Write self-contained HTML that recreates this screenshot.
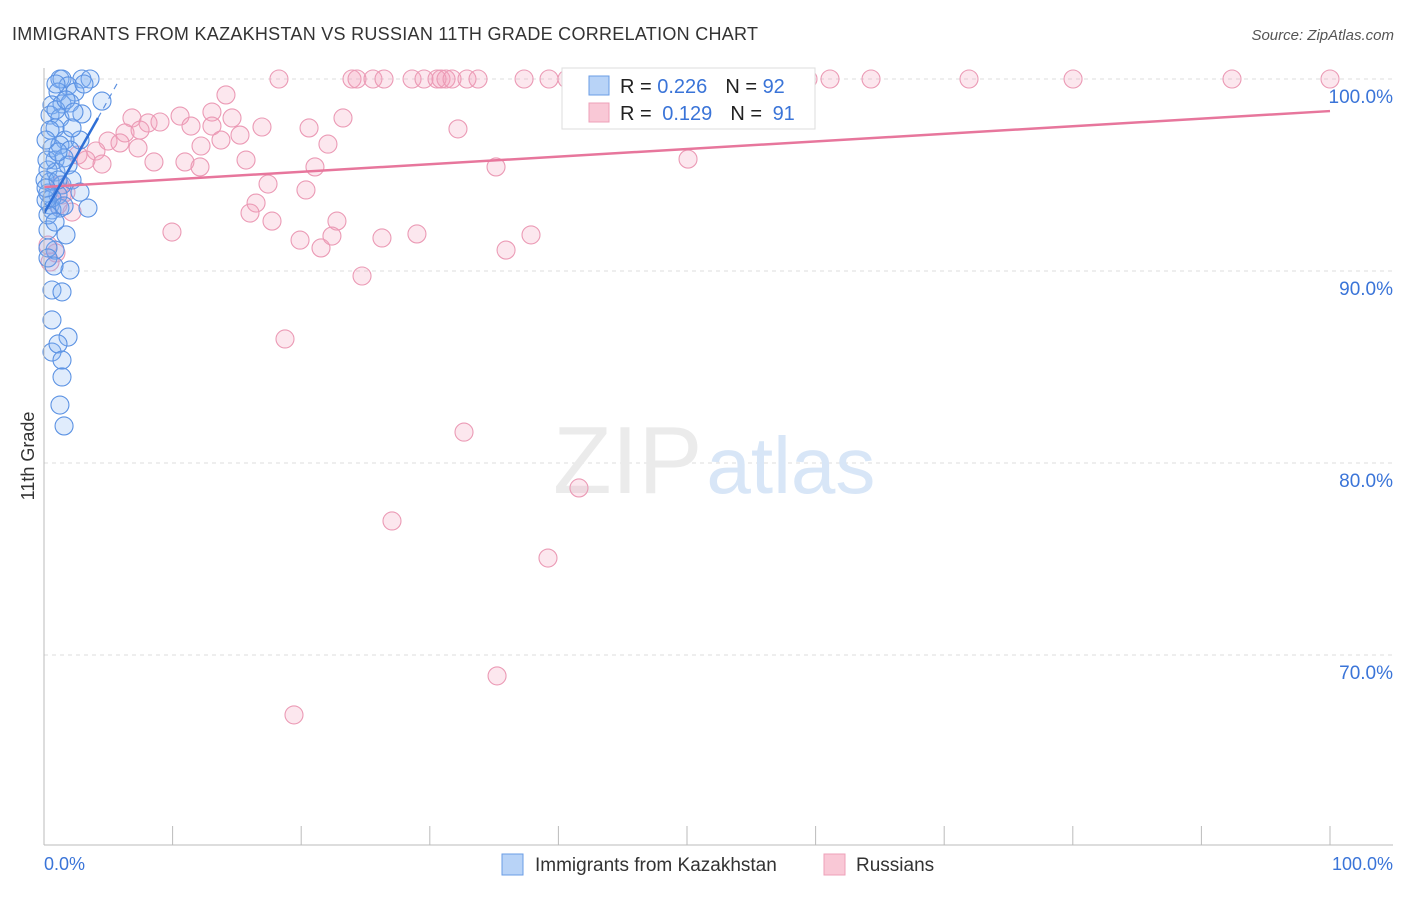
<!DOCTYPE html>
<html><head><meta charset="utf-8"><style>
body{margin:0;background:#fff;font-family:"Liberation Sans",sans-serif}
svg text{font-family:"Liberation Sans",sans-serif}
</style></head><body>
<svg id="chart" width="1406" height="892" xmlns="http://www.w3.org/2000/svg">
<text x="12" y="40" font-size="18" fill="#333" textLength="746">IMMIGRANTS FROM KAZAKHSTAN VS RUSSIAN 11TH GRADE CORRELATION CHART</text>
<text x="1394" y="40" font-size="15" fill="#555" text-anchor="end" font-style="italic">Source: ZipAtlas.com</text>
<g id="grid"></g>
<text x="553" y="493" font-size="96" font-family="Liberation Serif" fill="#ebebeb">ZIP<tspan fill="#d8e6f7" font-family="Liberation Sans" font-size="80" dx="4">atlas</tspan></text>
<g id="pts"></g>
<g id="lines"></g>
<line x1="44" y1="845" x2="1393" y2="845" stroke="#bbb"/>
<line x1="44" y1="68" x2="44" y2="845" stroke="#bbb"/>
<g id="axes"></g>
<text transform="translate(34,456) rotate(-90)" font-size="18" fill="#333" text-anchor="middle">11th Grade</text>
<g>
<rect x="562" y="68" width="253" height="61" fill="#fff" stroke="#ddd"/>
<rect x="589" y="76" width="20" height="19" fill="#b8d3f7" stroke="#6a9de6"/>
<rect x="589" y="103" width="20" height="19" fill="#f9c8d6" stroke="#eea0b8"/>
<text x="620" y="93" font-size="20" fill="#222">R = <tspan fill="#3a74d8">0.226</tspan><tspan dx="18">N = </tspan><tspan fill="#3a74d8">92</tspan></text>
<text x="620" y="120" font-size="20" fill="#222">R = <tspan fill="#3a74d8" dx="5">0.129</tspan><tspan dx="18">N = </tspan><tspan fill="#3a74d8" dx="5">91</tspan></text>
</g>
<g>
<rect x="502" y="854" width="21" height="21" fill="#b8d3f7" stroke="#6a9de6"/>
<text x="535" y="871" font-size="19" fill="#333">Immigrants from Kazakhstan</text>
<rect x="824" y="854" width="21" height="21" fill="#f9c8d6" stroke="#eea0b8"/>
<text x="856" y="871" font-size="19" fill="#333">Russians</text>
</g>
</svg>
<script>
const yTicks=[100,90,80,70];
const yTickLabels=["100.0%","90.0%","80.0%","70.0%"];
const xTickValues=[0,10,20,30,40,50,60,70,80,90,100];
const xEndLabels=["0.0%","100.0%"];
const blueX=[1.24,1.4,2.95,3.58,1.87,1.09,2.41,4.51,0.62,1.4,2.02,0.47,1.24,2.95,0.86,1.63,2.8,0.62,1.24,2.02,0.86,1.56,0.31,0.93,1.87,0.47,1.4,2.18,0.31,1.09,2.8,0.47,1.24,3.42,0.62,0.31,1.71,0.86,0.31,2.02,0.62,1.4,0.62,1.87,0.62,1.09,1.4,1.4,1.24,1.56,0.16,0.31,0.86,0.08,0.23,0.47,0.93,1.71,2.33,0.16,0.62,1.09,1.56,0.31,0.78,3.11,0.93,2.18,1.09,0.16];
const blueY=[100,100,100,100,99.64,99.32,99.32,98.85,98.65,98.7,98.75,98.12,97.97,98.18,97.45,96.82,96.82,96.41,96.56,96.3,95.78,95.89,95.26,95.16,95.52,94.64,94.48,94.74,94.06,93.96,94.11,93.44,93.28,93.28,93.18,92.14,91.88,91.09,91.2,90.05,89.01,88.91,87.45,86.56,85.78,86.2,85.36,84.48,83.02,81.93,93.7,92.92,92.55,94.74,95.78,97.34,98.39,98.91,98.28,96.82,93.8,94.74,93.39,90.68,90.26,99.74,99.74,97.45,96.2,94.32];
const pinkX=[18.27,23.95,24.34,25.58,26.44,28.62,29.55,30.56,30.87,31.26,31.73,32.89,33.75,37.33,39.27,40.67,47.2,50.78,51.87,59.41,61.12,64.31,71.93,80.02,92.38,100,14.15,13.06,6.84,8.09,9.02,10.58,11.43,13.06,14.62,16.95,20.61,23.25,32.19,6.3,7.47,4.98,5.91,7.31,4.04,2.64,3.27,4.51,8.55,10.96,12.13,12.21,13.76,15.24,15.71,21.07,22.08,35.15,50.08,17.42,20.37,16.49,16.02,17.73,22.78,9.95,19.91,21.54,22.39,26.28,29.0,37.87,35.93,24.73,18.74,32.66,41.6,27.06,39.19,35.23,19.44,1.24,2.18,1.09,0.93,0.47,0.31,1.4,1.71];
const pinkY=[100,100,100,100,100,100,100,100,100,100,100,100,100,100,100,100,100,100,100,100,100,100,100,100,100,100,99.17,98.28,97.97,97.71,97.76,98.07,97.55,97.55,97.97,97.5,97.45,97.97,97.4,97.19,97.34,96.77,96.67,96.41,96.25,96.04,95.78,95.57,95.68,95.68,95.42,96.51,96.82,97.08,95.78,95.42,96.61,95.42,95.83,94.53,94.22,93.54,93.02,92.6,92.6,92.03,91.61,91.2,91.82,91.72,91.93,91.88,91.09,89.74,86.46,81.61,78.7,76.98,75.05,68.91,66.88,94.48,93.07,93.44,90.94,90.47,91.35,93.96,94.11];
const pinkTrend=[94.375,98.33];
const blueTrend=[93.0,97.97,99.9];
const blueTrendX=[0,4.2,5.8];

const NS="http://www.w3.org/2000/svg";
const X=v=>44+v*12.86, Y=v=>79+(100-v)*19.2;
function mk(tag,attrs,parent){const e=document.createElementNS(NS,tag);for(const k in attrs)e.setAttribute(k,attrs[k]);parent.appendChild(e);return e;}
const grid=document.getElementById('grid'),axes=document.getElementById('axes'),pts=document.getElementById('pts'),lines=document.getElementById('lines');
yTicks.forEach((t,i)=>{
 const l=mk('line',{x1:44,x2:1393,y1:Y(t),y2:Y(t),stroke:'#ddd','stroke-dasharray':'4,4'},grid);
 
 
 const tx=mk('text',{x:1393,y:Y(t)+24,'font-size':19,fill:'#3a74d8','text-anchor':'end'},axes);
 tx.textContent=yTickLabels[i];
 
 
});
xTickValues.forEach(t=>{
 const l=mk('line',{x1:X(t),x2:X(t),y1:826,y2:845,stroke:'#bbb'},axes);
 
 
});
[[0,'start',44],[100,'end',1393]].forEach((a,i)=>{
 const tx=mk('text',{x:a[2],y:870,'font-size':18,fill:'#3a74d8','text-anchor':a[1]},axes);
 tx.textContent=xEndLabels[i];
 
 
});
pinkX.forEach((x,i)=>{
 const c=mk('circle',{cx:X(x),cy:Y(pinkY[i]),r:9,fill:'rgba(244,160,188,0.25)',stroke:'#eb9ab5','stroke-width':1.1},pts);
 
 
});
blueX.forEach((x,i)=>{
 const c=mk('circle',{cx:X(x),cy:Y(blueY[i]),r:9,fill:'rgba(130,178,242,0.25)',stroke:'#5b92e3','stroke-width':1.1},pts);
 
 
});
const pl=mk('line',{x1:X(0),y1:Y(pinkTrend[0]),x2:X(100),y2:Y(pinkTrend[1]),stroke:'#e7769c','stroke-width':2.5},lines);


const bl=mk('line',{x1:X(blueTrendX[0]),y1:Y(blueTrend[0]),x2:X(blueTrendX[1]),y2:Y(blueTrend[1]),stroke:'#2f6fd6','stroke-width':2.5},lines);


const bd=mk('line',{x1:X(blueTrendX[1]),y1:Y(blueTrend[1]),x2:X(blueTrendX[2]),y2:Y(blueTrend[2]),stroke:'#5a8fe0','stroke-width':1.2,'stroke-dasharray':'6,5'},lines);


</script>
</body></html>
